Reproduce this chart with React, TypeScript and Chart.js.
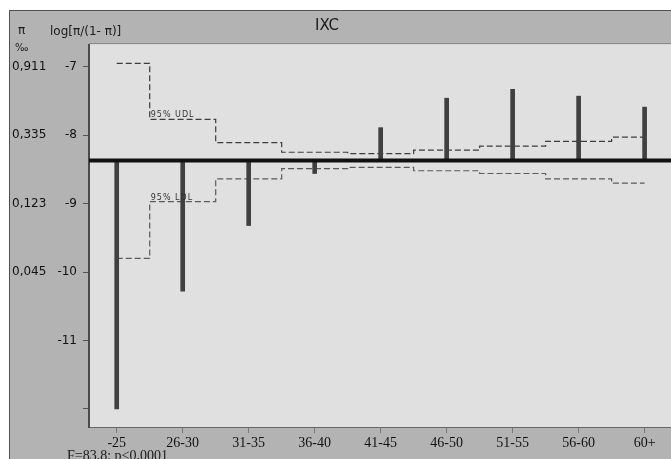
import React, { useEffect, useRef } from "react";
import { Chart, registerables } from "chart.js";

Chart.register(...registerables);

// ---- data ----
const categories = ["-25", "26-30", "31-35", "36-40", "41-45", "46-50", "51-55", "56-60", "60+"];
const values = [-12.0, -10.28, -9.32, -8.56, -7.89, -7.46, -7.33, -7.43, -7.59];
const upperLimit = [-6.95, -7.77, -8.11, -8.25, -8.27, -8.22, -8.16, -8.09, -8.03];
const lowerLimit = [-9.8, -8.97, -8.64, -8.49, -8.47, -8.52, -8.56, -8.64, -8.7];
const referenceValue = -8.37;
const logTicks = [-7, -8, -9, -10, -11, -12];
const logTickLabels = ["-7", "-8", "-9", "-10", "-11", ""];
const piTicks = [-7, -8, -9, -10];
const piTickLabels = ["0,911", "0,335", "0,123", "0,045"];
const title = "IXC";
const yTitleLog = "log[\u03c0/(1- \u03c0)]";
const yTitlePi = "\u03c0";
const yTitlePiUnit = "\u2030";
const upperLabel = "95% UDL";
const lowerLabel = "95% LDL";
const footnote = "F=83,8; p<0,0001";

const X_MIN = -0.42;
const X_MAX = 8.4;
const Y_MIN = -12.263;
const Y_MAX = -6.683;

const SANS = "'DejaVu Sans', sans-serif";
const SERIF = "'Liberation Serif', 'DejaVu Serif', serif";

const framePlugin = {
  id: "framePlugin",
  beforeDraw(chart: any) {
    const { ctx, width, height, chartArea } = chart;
    ctx.save();
    ctx.fillStyle = "#ffffff";
    ctx.fillRect(0, 0, width, height);
    // outer gray frame
    ctx.fillStyle = "#b3b3b3";
    ctx.fillRect(9, 10, width - 9, height - 10);
    ctx.strokeStyle = "#505050";
    ctx.lineWidth = 1;
    ctx.beginPath();
    ctx.moveTo(9.5, height);
    ctx.lineTo(9.5, 10.5);
    ctx.lineTo(width, 10.5);
    ctx.stroke();
    // title band separator
    ctx.strokeStyle = "#8a8a8a";
    ctx.beginPath();
    ctx.moveTo(chartArea.left, chartArea.top - 1.5);
    ctx.lineTo(width, chartArea.top - 1.5);
    ctx.stroke();
    ctx.strokeStyle = "#d6d6d6";
    ctx.beginPath();
    ctx.moveTo(chartArea.left, chartArea.top - 0.5);
    ctx.lineTo(width, chartArea.top - 0.5);
    ctx.stroke();
    // plot background
    ctx.fillStyle = "#e0e0e0";
    ctx.fillRect(chartArea.left, chartArea.top, chartArea.right - chartArea.left, chartArea.bottom - chartArea.top);
    ctx.restore();
  },
  afterDraw(chart: any) {
    const { ctx, scales } = chart;
    const xs = scales.x;
    const ys = scales.y;
    ctx.save();
    ctx.fillStyle = "#1a1a1a";
    ctx.textBaseline = "middle";
    // title
    ctx.font = `15px ${SANS}`;
    ctx.textAlign = "center";
    ctx.fillText(title, 327, 26);
    // axis titles
    ctx.textAlign = "left";
    ctx.font = `12px ${SANS}`;
    ctx.fillText(yTitleLog, 50, 32);
    ctx.fillText(yTitlePi, 18, 31);
    ctx.font = `10px ${SANS}`;
    ctx.fillText(yTitlePiUnit, 15, 48);
    // limit labels
    ctx.font = `8px ${SANS}`;
    ctx.fillStyle = "#333";
    (ctx as any).letterSpacing = "1px";
    const lx = xs.getPixelForValue(0.5) + 1;
    ctx.textBaseline = "alphabetic";
    ctx.fillText(upperLabel, lx, ys.getPixelForValue(upperLimit[1]) - 2);
    ctx.fillText(lowerLabel, lx, ys.getPixelForValue(lowerLimit[1]) - 2);
    (ctx as any).letterSpacing = "0px";
    // footnote
    ctx.fillStyle = "#1a1a1a";
    ctx.font = `14px ${SERIF}`;
    ctx.textBaseline = "middle";
    ctx.fillText(footnote, 67, 456);
    ctx.restore();
  },
};

export default function App() {
  const canvasRef = useRef<HTMLCanvasElement | null>(null);

  useEffect(() => {
    if (!canvasRef.current) return;
    const chart = new Chart(canvasRef.current, {
      type: "bar",
      data: {
        datasets: [
          {
            type: "line",
            label: "reference",
            data: [
              { x: X_MIN, y: referenceValue },
              { x: X_MAX, y: referenceValue },
            ],
            borderColor: "#111111",
            borderWidth: 4,
            pointRadius: 0,
            order: 0,
          } as any,
          {
            type: "bar",
            label: "value",
            data: values.map((v, i) => ({ x: i, y: [referenceValue, v] })),
            backgroundColor: "#404040",
            borderWidth: 0,
            barThickness: 4,
            grouped: false,
            order: 1,
          } as any,
          {
            type: "line",
            label: upperLabel,
            data: upperLimit.map((v, i) => ({ x: i, y: v })),
            borderColor: "#3c3c3c",
            borderWidth: 1.2,
            borderDash: [6, 3],
            stepped: "middle",
            pointRadius: 0,
            order: 2,
          } as any,
          {
            type: "line",
            label: lowerLabel,
            data: lowerLimit.map((v, i) => ({ x: i, y: v })),
            borderColor: "#5a5a5a",
            borderWidth: 1.2,
            borderDash: [6, 3],
            stepped: "middle",
            pointRadius: 0,
            order: 2,
          } as any,
        ],
      },
      options: {
        animation: false,
        responsive: false,
        maintainAspectRatio: false,
        layout: { padding: { left: 12, top: 45, right: 0, bottom: 0 } },
        plugins: {
          legend: { display: false },
          title: { display: false },
          tooltip: { enabled: false },
        },
        scales: {
          x: {
            type: "linear",
            position: "bottom",
            min: X_MIN,
            max: X_MAX,
            offset: false,
            afterBuildTicks: (scale: any) => {
              scale.ticks = categories.map((_, i) => ({ value: i }));
            },
            afterFit: (scale: any) => {
              scale.height = 32;
            },
            ticks: {
              autoSkip: false,
              maxRotation: 0,
              padding: 2,
              color: "#111",
              font: { family: SERIF, size: 14 },
              callback: (v: any) => categories[Math.round(Number(v))] ?? "",
            },
            grid: { offset: false, drawOnChartArea: false, tickLength: 6, color: "#777", lineWidth: 1 },
            border: { display: true, color: "#666", width: 1 },
          },
          y: {
            type: "linear",
            position: "left",
            weight: 0,
            min: Y_MIN,
            max: Y_MAX,
            afterBuildTicks: (scale: any) => {
              scale.ticks = logTicks.map((v) => ({ value: v }));
            },
            afterFit: (scale: any) => {
              scale.width = 34;
            },
            ticks: {
              padding: 6,
              color: "#111",
              font: { family: SANS, size: 12 },
              callback: (v: any) => {
                const idx = logTicks.indexOf(Number(v));
                return idx >= 0 ? logTickLabels[idx] : "";
              },
            },
            grid: { drawOnChartArea: false, tickLength: 6, color: "#555", lineWidth: 1 },
            border: { display: true, color: "#4a4a4a", width: 2 },
          },
          yPi: {
            type: "linear",
            position: "left",
            weight: 1,
            min: Y_MIN,
            max: Y_MAX,
            afterBuildTicks: (scale: any) => {
              scale.ticks = piTicks.map((v) => ({ value: v }));
            },
            afterFit: (scale: any) => {
              scale.width = 43;
            },
            ticks: {
              crossAlign: "far",
              padding: 0,
              color: "#111",
              font: { family: SANS, size: 12 },
              callback: (v: any) => {
                const idx = piTicks.indexOf(Number(v));
                return idx >= 0 ? piTickLabels[idx] : "";
              },
            },
            grid: { display: false, drawTicks: false },
            border: { display: false },
          },
        },
      } as any,
      plugins: [framePlugin],
    });
    return () => chart.destroy();
  }, []);

  return (
    <div style={{ position: "fixed", left: 0, top: 0, width: 671, height: 459 }}>
      <canvas ref={canvasRef} width={671} height={459} style={{ display: "block" }} />
    </div>
  );
}
